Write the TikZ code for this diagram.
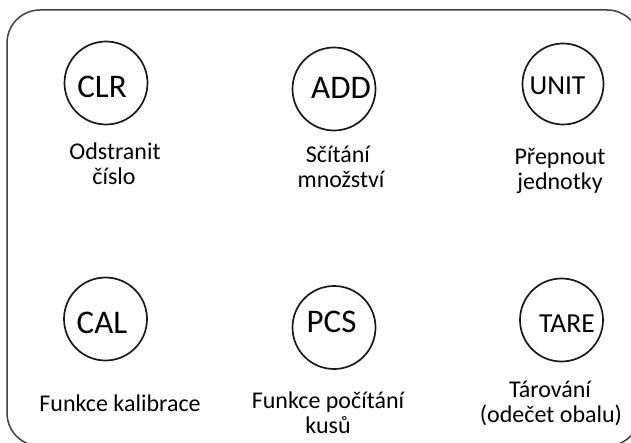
\documentclass[tikz,border=0pt]{standalone}
\usepackage{fontspec}
\setmainfont{Carlito}
\begin{document}
\begin{tikzpicture}[x=1pt,y=-1pt,
  key/.style={circle,draw=black!90,line width=1.7pt,minimum size=83pt,inner sep=0pt},
  keytxt/.style={inner sep=0pt,font=\fontsize{33}{36}\selectfont},
  smallkeytxt/.style={keytxt,font=\fontsize{27.5}{30}\selectfont},
  lbl/.style={anchor=base,inner sep=0pt,font=\fontsize{24}{25}\selectfont}]
\useasboundingbox (0,0) rectangle (631,443);
\clip (0,0) rectangle (631,443);
\draw[line width=1.5pt,draw=black!75,rounded corners=33pt] (7,10) rectangle (640,446);
% keys
\node[key] (clr) at (106,83) {};
\node[keytxt] (tclr) at (102,87) {CLR};
\node[key] (add) at (334,89) {};
\node[keytxt] (tadd) at (341,88) {ADD};
\node[key,minimum size=81pt] (unit) at (563,84) {};
\node[smallkeytxt] (tunit) at (557.5,86) {UNIT};
\node[key] (cal) at (105.5,319) {};
\node[keytxt] (tcal) at (102,323) {CAL};
\node[key] (pcs) at (334,327.5) {};
\node[keytxt] (tpcs) at (331.5,322) {PCS};
\node[key] (tare) at (561.5,320) {};
\node[smallkeytxt] (ttare) at (567,323.5) {TARE};
% labels
\node[lbl] (lclra) at (115,160) {Odstranit};
\node[lbl] (lclrb) at (114,185) {číslo};
\node[lbl] (ladda) at (338,163) {Sčítání};
\node[lbl] (laddb) at (341,188) {množství};
\node[lbl] (lunita) at (560,165) {Přepnout};
\node[lbl] (lunitb) at (560,190) {jednotky};
\node[lbl] (lcal) at (120,411) {Funkce kalibrace};
\node[lbl] (lpcsa) at (328,408) {Funkce počítání};
\node[lbl] (lpcsb) at (328,433) {kusů};
\node[lbl] (ltarea) at (550,397) {Tárování};
\node[lbl] (ltareb) at (551,422) {(odečet obalu)};
\end{tikzpicture}
\end{document}
